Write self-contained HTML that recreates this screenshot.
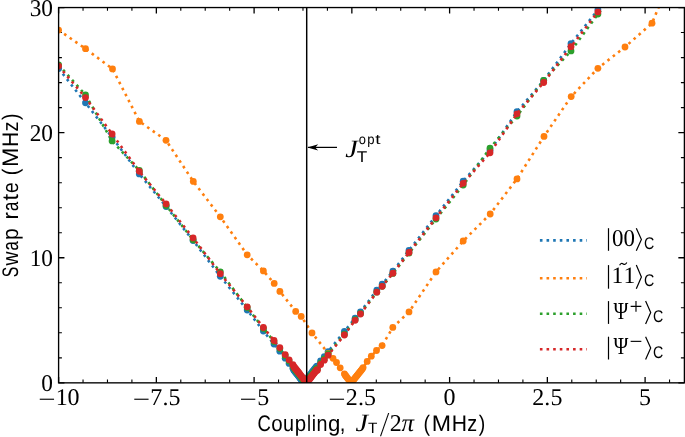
<!DOCTYPE html>
<html><head><meta charset="utf-8"><title>Swap rate vs coupling</title>
<style>
html,body{margin:0;padding:0;background:#fff;}
body{width:685px;height:437px;overflow:hidden;position:relative;font-family:"Liberation Sans",sans-serif;}
text{fill:#000;text-rendering:geometricPrecision;}
svg{will-change:transform;}
</style></head><body>
<svg width="685" height="437" viewBox="0 0 685 437" style="position:absolute;left:0;top:0">
<defs><clipPath id="ax"><rect x="58.60" y="7.55" width="625.60" height="375.30"/></clipPath></defs>
<rect x="0" y="0" width="685" height="437" fill="#fff"/>
<path d="M58.60 382.85v-5.85M58.60 7.55v5.85" stroke="#000" stroke-width="1.30"/><path d="M83.04 382.85v-3.30M83.04 7.55v3.30" stroke="#000" stroke-width="1.10"/><path d="M107.47 382.85v-3.30M107.47 7.55v3.30" stroke="#000" stroke-width="1.10"/><path d="M131.91 382.85v-3.30M131.91 7.55v3.30" stroke="#000" stroke-width="1.10"/><path d="M156.35 382.85v-5.85M156.35 7.55v5.85" stroke="#000" stroke-width="1.30"/><path d="M180.79 382.85v-3.30M180.79 7.55v3.30" stroke="#000" stroke-width="1.10"/><path d="M205.22 382.85v-3.30M205.22 7.55v3.30" stroke="#000" stroke-width="1.10"/><path d="M229.66 382.85v-3.30M229.66 7.55v3.30" stroke="#000" stroke-width="1.10"/><path d="M254.10 382.85v-5.85M254.10 7.55v5.85" stroke="#000" stroke-width="1.30"/><path d="M278.54 382.85v-3.30M278.54 7.55v3.30" stroke="#000" stroke-width="1.10"/><path d="M302.98 382.85v-3.30M302.98 7.55v3.30" stroke="#000" stroke-width="1.10"/><path d="M327.41 382.85v-3.30M327.41 7.55v3.30" stroke="#000" stroke-width="1.10"/><path d="M351.85 382.85v-5.85M351.85 7.55v5.85" stroke="#000" stroke-width="1.30"/><path d="M376.29 382.85v-3.30M376.29 7.55v3.30" stroke="#000" stroke-width="1.10"/><path d="M400.73 382.85v-3.30M400.73 7.55v3.30" stroke="#000" stroke-width="1.10"/><path d="M425.16 382.85v-3.30M425.16 7.55v3.30" stroke="#000" stroke-width="1.10"/><path d="M449.60 382.85v-5.85M449.60 7.55v5.85" stroke="#000" stroke-width="1.30"/><path d="M474.04 382.85v-3.30M474.04 7.55v3.30" stroke="#000" stroke-width="1.10"/><path d="M498.48 382.85v-3.30M498.48 7.55v3.30" stroke="#000" stroke-width="1.10"/><path d="M522.91 382.85v-3.30M522.91 7.55v3.30" stroke="#000" stroke-width="1.10"/><path d="M547.35 382.85v-5.85M547.35 7.55v5.85" stroke="#000" stroke-width="1.30"/><path d="M571.79 382.85v-3.30M571.79 7.55v3.30" stroke="#000" stroke-width="1.10"/><path d="M596.23 382.85v-3.30M596.23 7.55v3.30" stroke="#000" stroke-width="1.10"/><path d="M620.66 382.85v-3.30M620.66 7.55v3.30" stroke="#000" stroke-width="1.10"/><path d="M645.10 382.85v-5.85M645.10 7.55v5.85" stroke="#000" stroke-width="1.30"/><path d="M669.54 382.85v-3.30M669.54 7.55v3.30" stroke="#000" stroke-width="1.10"/><path d="M58.60 382.85h5.85M684.20 382.85h-5.85" stroke="#000" stroke-width="1.30"/><path d="M58.60 357.83h3.30M684.20 357.83h-3.30" stroke="#000" stroke-width="1.10"/><path d="M58.60 332.81h3.30M684.20 332.81h-3.30" stroke="#000" stroke-width="1.10"/><path d="M58.60 307.79h3.30M684.20 307.79h-3.30" stroke="#000" stroke-width="1.10"/><path d="M58.60 282.77h3.30M684.20 282.77h-3.30" stroke="#000" stroke-width="1.10"/><path d="M58.60 257.75h5.85M684.20 257.75h-5.85" stroke="#000" stroke-width="1.30"/><path d="M58.60 232.73h3.30M684.20 232.73h-3.30" stroke="#000" stroke-width="1.10"/><path d="M58.60 207.71h3.30M684.20 207.71h-3.30" stroke="#000" stroke-width="1.10"/><path d="M58.60 182.69h3.30M684.20 182.69h-3.30" stroke="#000" stroke-width="1.10"/><path d="M58.60 157.67h3.30M684.20 157.67h-3.30" stroke="#000" stroke-width="1.10"/><path d="M58.60 132.65h5.85M684.20 132.65h-5.85" stroke="#000" stroke-width="1.30"/><path d="M58.60 107.63h3.30M684.20 107.63h-3.30" stroke="#000" stroke-width="1.10"/><path d="M58.60 82.61h3.30M684.20 82.61h-3.30" stroke="#000" stroke-width="1.10"/><path d="M58.60 57.59h3.30M684.20 57.59h-3.30" stroke="#000" stroke-width="1.10"/><path d="M58.60 32.57h3.30M684.20 32.57h-3.30" stroke="#000" stroke-width="1.10"/><path d="M58.60 7.55h5.85M684.20 7.55h-5.85" stroke="#000" stroke-width="1.30"/>
<g clip-path="url(#ax)">
<path d="M58.6 68.5 L85.5 102.8 L112.1 137.2 L139.3 173.9 L166.1 206.5 L193.1 240.5 L220.3 276.3 L247.2 310.0 L263.4 331.1 L274.0 344.1 L279.8 351.2 L285.2 358.2 L289.1 363.4 L292.9 368.2 L293.7 370.0 L294.5 371.0 L295.3 372.1 L296.1 373.1 L296.9 374.1 L297.7 375.1 L298.5 376.1 L299.3 377.1 L300.1 378.2 L300.9 379.2 L301.7 380.2 L302.5 381.2 L303.3 382.2 L304.1 382.9 L304.9 382.9 L305.7 381.7 L306.5 382.7" fill="none" stroke="#1f77b4" stroke-width="2.60" stroke-dasharray="2.600 4.150" stroke-dashoffset="0.00"/>
<path d="M306.5 382.7 L307.3 382.0 L308.1 377.3 L308.9 376.3 L309.7 375.3 L310.5 374.3 L311.3 373.3 L312.1 372.2 L312.9 371.2 L313.7 370.2 L314.5 369.2 L315.3 368.2 L316.1 367.1 L316.9 366.1 L317.4 366.7 L320.6 360.9 L324.3 356.6 L328.1 351.6 L344.4 331.4 L355.1 318.2 L360.5 311.9 L376.8 290.1 L382.2 284.2 L392.9 271.1 L409.0 250.4 L436.0 215.7 L463.2 181.2 L490.0 150.7 L517.0 111.7 L543.7 80.4 L571.0 43.7 L597.9 9.8 L624.9 -24.1" fill="none" stroke="#1f77b4" stroke-width="2.60" stroke-dasharray="2.600 4.150" stroke-dashoffset="-1.80"/>
<g fill="#1f77b4"><circle cx="58.6" cy="68.5" r="3.40"/><circle cx="85.5" cy="102.8" r="3.40"/><circle cx="112.1" cy="137.2" r="3.40"/><circle cx="139.3" cy="173.9" r="3.40"/><circle cx="166.1" cy="206.5" r="3.40"/><circle cx="193.1" cy="240.5" r="3.40"/><circle cx="220.3" cy="276.3" r="3.40"/><circle cx="247.2" cy="310.0" r="3.40"/><circle cx="263.4" cy="331.1" r="3.40"/><circle cx="274.0" cy="344.1" r="3.40"/><circle cx="279.8" cy="351.2" r="3.40"/><circle cx="285.2" cy="358.2" r="3.40"/><circle cx="289.1" cy="363.4" r="3.40"/><circle cx="292.9" cy="368.2" r="3.40"/><circle cx="293.7" cy="370.0" r="3.40"/><circle cx="294.5" cy="371.0" r="3.40"/><circle cx="295.3" cy="372.1" r="3.40"/><circle cx="296.1" cy="373.1" r="3.40"/><circle cx="296.9" cy="374.1" r="3.40"/><circle cx="297.7" cy="375.1" r="3.40"/><circle cx="298.5" cy="376.1" r="3.40"/><circle cx="299.3" cy="377.1" r="3.40"/><circle cx="300.1" cy="378.2" r="3.40"/><circle cx="300.9" cy="379.2" r="3.40"/><circle cx="301.7" cy="380.2" r="3.40"/><circle cx="302.5" cy="381.2" r="3.40"/><circle cx="303.3" cy="382.2" r="3.40"/><circle cx="304.1" cy="382.9" r="3.40"/><circle cx="304.9" cy="382.9" r="3.40"/><circle cx="305.7" cy="381.7" r="3.40"/><circle cx="306.5" cy="382.7" r="3.40"/><circle cx="307.3" cy="382.0" r="3.40"/><circle cx="308.1" cy="377.3" r="3.40"/><circle cx="308.9" cy="376.3" r="3.40"/><circle cx="309.7" cy="375.3" r="3.40"/><circle cx="310.5" cy="374.3" r="3.40"/><circle cx="311.3" cy="373.3" r="3.40"/><circle cx="312.1" cy="372.2" r="3.40"/><circle cx="312.9" cy="371.2" r="3.40"/><circle cx="313.7" cy="370.2" r="3.40"/><circle cx="314.5" cy="369.2" r="3.40"/><circle cx="315.3" cy="368.2" r="3.40"/><circle cx="316.1" cy="367.1" r="3.40"/><circle cx="316.9" cy="366.1" r="3.40"/><circle cx="317.4" cy="366.7" r="3.40"/><circle cx="320.6" cy="360.9" r="3.40"/><circle cx="324.3" cy="356.6" r="3.40"/><circle cx="328.1" cy="351.6" r="3.40"/><circle cx="344.4" cy="331.4" r="3.40"/><circle cx="355.1" cy="318.2" r="3.40"/><circle cx="360.5" cy="311.9" r="3.40"/><circle cx="376.8" cy="290.1" r="3.40"/><circle cx="382.2" cy="284.2" r="3.40"/><circle cx="392.9" cy="271.1" r="3.40"/><circle cx="409.0" cy="250.4" r="3.40"/><circle cx="436.0" cy="215.7" r="3.40"/><circle cx="463.2" cy="181.2" r="3.40"/><circle cx="490.0" cy="150.7" r="3.40"/><circle cx="517.0" cy="111.7" r="3.40"/><circle cx="543.7" cy="80.4" r="3.40"/><circle cx="571.0" cy="43.7" r="3.40"/><circle cx="597.9" cy="9.8" r="3.40"/><circle cx="624.9" cy="-24.1" r="3.40"/></g>

<path d="M58.6 30.1 L85.5 48.7 L112.5 68.9 L139.4 121.4 L166.0 140.3 L193.3 181.4 L220.3 216.8 L247.2 254.8 L263.4 270.9 L274.2 283.4 L279.9 291.4 L295.7 311.4 L301.2 316.4 L312.0 332.9 L328.2 353.3 L333.0 358.3 L336.5 362.5 L340.2 367.8 L344.4 373.8 L345.2 375.2 L346.0 376.2 L346.8 377.3 L347.6 378.3 L348.4 379.3 L349.2 380.3 L350.0 381.3 L350.8 382.3 L351.2 382.9 L352.0 381.9 L352.8 380.9 L353.6 379.8 L354.4 378.8 L355.2 377.8 L356.0 376.8 L356.8 375.8 L357.6 374.8 L358.4 373.8 L359.2 372.8 L360.0 371.8 L360.8 370.8 L361.6 369.8 L362.4 368.8 L363.1 367.6 L367.2 361.4 L371.3 356.2 L376.5 350.5 L382.1 345.6 L392.8 327.4 L409.0 311.9 L436.0 271.9 L463.2 241.0 L490.2 214.0 L517.0 178.9 L544.0 136.4 L571.2 96.6 L597.9 68.3 L625.0 47.0 L652.0 23.2 L679.0 -42.0" fill="none" stroke="#ff7f0e" stroke-width="2.60" stroke-dasharray="2.600 4.150" stroke-dashoffset="0.00"/>
<g fill="#ff7f0e"><circle cx="58.6" cy="30.1" r="3.40"/><circle cx="85.5" cy="48.7" r="3.40"/><circle cx="112.5" cy="68.9" r="3.40"/><circle cx="139.4" cy="121.4" r="3.40"/><circle cx="166.0" cy="140.3" r="3.40"/><circle cx="193.3" cy="181.4" r="3.40"/><circle cx="220.3" cy="216.8" r="3.40"/><circle cx="247.2" cy="254.8" r="3.40"/><circle cx="263.4" cy="270.9" r="3.40"/><circle cx="274.2" cy="283.4" r="3.40"/><circle cx="279.9" cy="291.4" r="3.40"/><circle cx="295.7" cy="311.4" r="3.40"/><circle cx="301.2" cy="316.4" r="3.40"/><circle cx="312.0" cy="332.9" r="3.40"/><circle cx="328.2" cy="353.3" r="3.40"/><circle cx="333.0" cy="358.3" r="3.40"/><circle cx="336.5" cy="362.5" r="3.40"/><circle cx="340.2" cy="367.8" r="3.40"/><circle cx="344.4" cy="373.8" r="3.40"/><circle cx="345.2" cy="375.2" r="3.40"/><circle cx="346.0" cy="376.2" r="3.40"/><circle cx="346.8" cy="377.3" r="3.40"/><circle cx="347.6" cy="378.3" r="3.40"/><circle cx="348.4" cy="379.3" r="3.40"/><circle cx="349.2" cy="380.3" r="3.40"/><circle cx="350.0" cy="381.3" r="3.40"/><circle cx="350.8" cy="382.3" r="3.40"/><circle cx="351.2" cy="382.9" r="3.40"/><circle cx="352.0" cy="381.9" r="3.40"/><circle cx="352.8" cy="380.9" r="3.40"/><circle cx="353.6" cy="379.8" r="3.40"/><circle cx="354.4" cy="378.8" r="3.40"/><circle cx="355.2" cy="377.8" r="3.40"/><circle cx="356.0" cy="376.8" r="3.40"/><circle cx="356.8" cy="375.8" r="3.40"/><circle cx="357.6" cy="374.8" r="3.40"/><circle cx="358.4" cy="373.8" r="3.40"/><circle cx="359.2" cy="372.8" r="3.40"/><circle cx="360.0" cy="371.8" r="3.40"/><circle cx="360.8" cy="370.8" r="3.40"/><circle cx="361.6" cy="369.8" r="3.40"/><circle cx="362.4" cy="368.8" r="3.40"/><circle cx="363.1" cy="367.6" r="3.40"/><circle cx="367.2" cy="361.4" r="3.40"/><circle cx="371.3" cy="356.2" r="3.40"/><circle cx="376.5" cy="350.5" r="3.40"/><circle cx="382.1" cy="345.6" r="3.40"/><circle cx="392.8" cy="327.4" r="3.40"/><circle cx="409.0" cy="311.9" r="3.40"/><circle cx="436.0" cy="271.9" r="3.40"/><circle cx="463.2" cy="241.0" r="3.40"/><circle cx="490.2" cy="214.0" r="3.40"/><circle cx="517.0" cy="178.9" r="3.40"/><circle cx="544.0" cy="136.4" r="3.40"/><circle cx="571.2" cy="96.6" r="3.40"/><circle cx="597.9" cy="68.3" r="3.40"/><circle cx="625.0" cy="47.0" r="3.40"/><circle cx="652.0" cy="23.2" r="3.40"/><circle cx="679.0" cy="-42.0" r="3.40"/></g>

<path d="M58.6 64.8 L85.5 95.0 L112.1 140.9 L139.3 170.5 L166.1 205.5 L193.1 239.8 L220.3 271.8 L247.2 307.5 L263.4 328.4 L274.0 341.5 L279.8 348.6 L285.2 355.7 L289.1 360.9 L292.9 365.8 L293.7 367.6 L294.5 368.6 L295.3 369.7 L296.1 370.7 L296.9 371.7 L297.7 372.7 L298.5 373.8 L299.3 374.8 L300.1 375.8 L300.9 376.8 L301.7 377.9 L302.5 378.9 L303.3 379.9 L304.1 381.0 L304.9 382.0 L305.7 381.7 L306.5 382.7" fill="none" stroke="#2ca02c" stroke-width="2.60" stroke-dasharray="2.600 4.150" stroke-dashoffset="0.00"/>
<path d="M306.5 382.7 L307.3 382.0 L308.1 379.3 L308.9 378.3 L309.7 377.3 L310.5 376.3 L311.3 375.3 L312.1 374.3 L312.9 373.3 L313.7 372.3 L314.5 371.3 L315.3 370.3 L316.1 369.3 L316.9 368.3 L317.4 368.9 L320.6 363.1 L324.3 358.9 L328.1 354.0 L344.4 334.2 L355.1 319.7 L360.5 313.5 L376.8 292.1 L382.2 286.3 L392.9 273.4 L409.0 253.1 L436.0 219.0 L463.2 185.1 L490.0 148.2 L517.0 116.0 L543.7 80.5 L571.0 50.9 L597.9 14.1 L624.9 -19.8" fill="none" stroke="#2ca02c" stroke-width="2.60" stroke-dasharray="2.600 4.150" stroke-dashoffset="-0.80"/>
<g fill="#2ca02c"><circle cx="58.6" cy="64.8" r="3.40"/><circle cx="85.5" cy="95.0" r="3.40"/><circle cx="112.1" cy="140.9" r="3.40"/><circle cx="139.3" cy="170.5" r="3.40"/><circle cx="166.1" cy="205.5" r="3.40"/><circle cx="193.1" cy="239.8" r="3.40"/><circle cx="220.3" cy="271.8" r="3.40"/><circle cx="247.2" cy="307.5" r="3.40"/><circle cx="263.4" cy="328.4" r="3.40"/><circle cx="274.0" cy="341.5" r="3.40"/><circle cx="279.8" cy="348.6" r="3.40"/><circle cx="285.2" cy="355.7" r="3.40"/><circle cx="289.1" cy="360.9" r="3.40"/><circle cx="292.9" cy="365.8" r="3.40"/><circle cx="293.7" cy="367.6" r="3.40"/><circle cx="294.5" cy="368.6" r="3.40"/><circle cx="295.3" cy="369.7" r="3.40"/><circle cx="296.1" cy="370.7" r="3.40"/><circle cx="296.9" cy="371.7" r="3.40"/><circle cx="297.7" cy="372.7" r="3.40"/><circle cx="298.5" cy="373.8" r="3.40"/><circle cx="299.3" cy="374.8" r="3.40"/><circle cx="300.1" cy="375.8" r="3.40"/><circle cx="300.9" cy="376.8" r="3.40"/><circle cx="301.7" cy="377.9" r="3.40"/><circle cx="302.5" cy="378.9" r="3.40"/><circle cx="303.3" cy="379.9" r="3.40"/><circle cx="304.1" cy="381.0" r="3.40"/><circle cx="304.9" cy="382.0" r="3.40"/><circle cx="305.7" cy="381.7" r="3.40"/><circle cx="306.5" cy="382.7" r="3.40"/><circle cx="307.3" cy="382.0" r="3.40"/><circle cx="308.1" cy="379.3" r="3.40"/><circle cx="308.9" cy="378.3" r="3.40"/><circle cx="309.7" cy="377.3" r="3.40"/><circle cx="310.5" cy="376.3" r="3.40"/><circle cx="311.3" cy="375.3" r="3.40"/><circle cx="312.1" cy="374.3" r="3.40"/><circle cx="312.9" cy="373.3" r="3.40"/><circle cx="313.7" cy="372.3" r="3.40"/><circle cx="314.5" cy="371.3" r="3.40"/><circle cx="315.3" cy="370.3" r="3.40"/><circle cx="316.1" cy="369.3" r="3.40"/><circle cx="316.9" cy="368.3" r="3.40"/><circle cx="317.4" cy="368.9" r="3.40"/><circle cx="320.6" cy="363.1" r="3.40"/><circle cx="324.3" cy="358.9" r="3.40"/><circle cx="328.1" cy="354.0" r="3.40"/><circle cx="344.4" cy="334.2" r="3.40"/><circle cx="355.1" cy="319.7" r="3.40"/><circle cx="360.5" cy="313.5" r="3.40"/><circle cx="376.8" cy="292.1" r="3.40"/><circle cx="382.2" cy="286.3" r="3.40"/><circle cx="392.9" cy="273.4" r="3.40"/><circle cx="409.0" cy="253.1" r="3.40"/><circle cx="436.0" cy="219.0" r="3.40"/><circle cx="463.2" cy="185.1" r="3.40"/><circle cx="490.0" cy="148.2" r="3.40"/><circle cx="517.0" cy="116.0" r="3.40"/><circle cx="543.7" cy="80.5" r="3.40"/><circle cx="571.0" cy="50.9" r="3.40"/><circle cx="597.9" cy="14.1" r="3.40"/><circle cx="624.9" cy="-19.8" r="3.40"/></g>

<path d="M58.6 66.1 L85.5 97.6 L112.1 134.0 L139.3 171.3 L166.1 203.9 L193.1 237.9 L220.3 273.7 L247.2 306.8 L263.4 327.5 L274.0 340.5 L279.8 347.6 L285.2 354.6 L289.1 359.8 L292.9 364.6 L293.7 366.4 L294.5 367.4 L295.3 368.5 L296.1 369.5 L296.9 370.5 L297.7 371.5 L298.5 372.5 L299.3 373.5 L300.1 374.6 L300.9 375.6 L301.7 376.6 L302.5 377.6 L303.3 378.6 L304.1 379.7 L304.9 380.7 L305.7 381.7 L306.5 382.7" fill="none" stroke="#d62728" stroke-width="2.60" stroke-dasharray="2.600 4.150" stroke-dashoffset="0.00"/>
<path d="M306.5 382.7 L307.3 382.0 L308.1 380.9 L308.9 379.9 L309.7 378.9 L310.5 377.9 L311.3 376.9 L312.1 375.8 L312.9 374.8 L313.7 373.8 L314.5 372.8 L315.3 371.8 L316.1 370.7 L316.9 369.7 L317.4 370.3 L320.6 364.5 L324.3 360.2 L328.1 355.2 L344.4 335.0 L355.1 320.3 L360.5 314.0 L376.8 292.2 L382.2 286.3 L392.9 273.2 L409.0 252.5 L436.0 217.8 L463.2 183.3 L490.0 152.8 L517.0 113.8 L543.7 82.5 L571.0 46.7 L597.9 11.9 L624.9 -22.0" fill="none" stroke="#d62728" stroke-width="2.60" stroke-dasharray="2.600 4.150" stroke-dashoffset="0.00"/>
<g fill="#d62728"><circle cx="58.6" cy="66.1" r="3.40"/><circle cx="85.5" cy="97.6" r="3.40"/><circle cx="112.1" cy="134.0" r="3.40"/><circle cx="139.3" cy="171.3" r="3.40"/><circle cx="166.1" cy="203.9" r="3.40"/><circle cx="193.1" cy="237.9" r="3.40"/><circle cx="220.3" cy="273.7" r="3.40"/><circle cx="247.2" cy="306.8" r="3.40"/><circle cx="263.4" cy="327.5" r="3.40"/><circle cx="274.0" cy="340.5" r="3.40"/><circle cx="279.8" cy="347.6" r="3.40"/><circle cx="285.2" cy="354.6" r="3.40"/><circle cx="289.1" cy="359.8" r="3.40"/><circle cx="292.9" cy="364.6" r="3.40"/><circle cx="293.7" cy="366.4" r="3.40"/><circle cx="294.5" cy="367.4" r="3.40"/><circle cx="295.3" cy="368.5" r="3.40"/><circle cx="296.1" cy="369.5" r="3.40"/><circle cx="296.9" cy="370.5" r="3.40"/><circle cx="297.7" cy="371.5" r="3.40"/><circle cx="298.5" cy="372.5" r="3.40"/><circle cx="299.3" cy="373.5" r="3.40"/><circle cx="300.1" cy="374.6" r="3.40"/><circle cx="300.9" cy="375.6" r="3.40"/><circle cx="301.7" cy="376.6" r="3.40"/><circle cx="302.5" cy="377.6" r="3.40"/><circle cx="303.3" cy="378.6" r="3.40"/><circle cx="304.1" cy="379.7" r="3.40"/><circle cx="304.9" cy="380.7" r="3.40"/><circle cx="305.7" cy="381.7" r="3.40"/><circle cx="306.5" cy="382.7" r="3.40"/><circle cx="307.3" cy="382.0" r="3.40"/><circle cx="308.1" cy="380.9" r="3.40"/><circle cx="308.9" cy="379.9" r="3.40"/><circle cx="309.7" cy="378.9" r="3.40"/><circle cx="310.5" cy="377.9" r="3.40"/><circle cx="311.3" cy="376.9" r="3.40"/><circle cx="312.1" cy="375.8" r="3.40"/><circle cx="312.9" cy="374.8" r="3.40"/><circle cx="313.7" cy="373.8" r="3.40"/><circle cx="314.5" cy="372.8" r="3.40"/><circle cx="315.3" cy="371.8" r="3.40"/><circle cx="316.1" cy="370.7" r="3.40"/><circle cx="316.9" cy="369.7" r="3.40"/><circle cx="317.4" cy="370.3" r="3.40"/><circle cx="320.6" cy="364.5" r="3.40"/><circle cx="324.3" cy="360.2" r="3.40"/><circle cx="328.1" cy="355.2" r="3.40"/><circle cx="344.4" cy="335.0" r="3.40"/><circle cx="355.1" cy="320.3" r="3.40"/><circle cx="360.5" cy="314.0" r="3.40"/><circle cx="376.8" cy="292.2" r="3.40"/><circle cx="382.2" cy="286.3" r="3.40"/><circle cx="392.9" cy="273.2" r="3.40"/><circle cx="409.0" cy="252.5" r="3.40"/><circle cx="436.0" cy="217.8" r="3.40"/><circle cx="463.2" cy="183.3" r="3.40"/><circle cx="490.0" cy="152.8" r="3.40"/><circle cx="517.0" cy="113.8" r="3.40"/><circle cx="543.7" cy="82.5" r="3.40"/><circle cx="571.0" cy="46.7" r="3.40"/><circle cx="597.9" cy="11.9" r="3.40"/><circle cx="624.9" cy="-22.0" r="3.40"/></g>

<line x1="306.7" x2="306.7" y1="7.5" y2="382.9" stroke="#000" stroke-width="1.45"/>
</g>
<rect x="58.60" y="7.55" width="625.80" height="375.30" fill="none" stroke="#000" stroke-width="1.35"/>
<line x1="539.9" x2="586.9" y1="240.4" y2="240.4" stroke="#1f77b4" stroke-width="2.60" stroke-dasharray="2.60 4.03"/>
<line x1="539.9" x2="586.9" y1="278.2" y2="278.2" stroke="#ff7f0e" stroke-width="2.60" stroke-dasharray="2.60 4.03"/>
<line x1="539.9" x2="586.9" y1="313.8" y2="313.8" stroke="#2ca02c" stroke-width="2.60" stroke-dasharray="2.60 4.03"/>
<line x1="539.9" x2="586.9" y1="349.3" y2="349.3" stroke="#d62728" stroke-width="2.60" stroke-dasharray="2.60 4.03"/>
<path d="M308 147.4H337" stroke="#000" stroke-width="1.25" fill="none"/>
<path d="M307.4 147.4L318.2 144.2L315.2 147.4L318.2 150.6Z" fill="#000"/>
<text x="41.34" y="391.15" font-size="24.00" style="font-family:'Liberation Serif',serif" text-anchor="start" textLength="11.66" lengthAdjust="spacingAndGlyphs" >0</text>
<text x="29.67" y="266.05" font-size="24.00" style="font-family:'Liberation Serif',serif" text-anchor="start" textLength="23.33" lengthAdjust="spacingAndGlyphs" >10</text>
<text x="29.67" y="140.95" font-size="24.00" style="font-family:'Liberation Serif',serif" text-anchor="start" textLength="23.33" lengthAdjust="spacingAndGlyphs" >20</text>
<text x="29.67" y="15.85" font-size="24.00" style="font-family:'Liberation Serif',serif" text-anchor="start" textLength="23.33" lengthAdjust="spacingAndGlyphs" >30</text>
<text x="38.26" y="407.30" font-size="23.33" style="font-family:'Liberation Serif',serif" text-anchor="start" textLength="17.30" lengthAdjust="spacingAndGlyphs" >−</text><text x="55.84 67.51" y="405.30" font-size="24.00" style="font-family:'Liberation Serif',serif" text-anchor="start" >10</text>
<text x="132.77" y="407.30" font-size="23.33" style="font-family:'Liberation Serif',serif" text-anchor="start" textLength="17.30" lengthAdjust="spacingAndGlyphs" >−</text><text x="150.35 162.43 168.50" y="405.30" font-size="24.00" style="font-family:'Liberation Serif',serif" text-anchor="start" >7.5</text>
<text x="239.60" y="407.30" font-size="23.33" style="font-family:'Liberation Serif',serif" text-anchor="start" textLength="17.30" lengthAdjust="spacingAndGlyphs" >−</text><text x="257.18" y="405.30" font-size="24.00" style="font-family:'Liberation Serif',serif" text-anchor="start" >5</text>
<text x="328.27" y="407.30" font-size="23.33" style="font-family:'Liberation Serif',serif" text-anchor="start" textLength="17.30" lengthAdjust="spacingAndGlyphs" >−</text><text x="345.85 357.93 364.00" y="405.30" font-size="24.00" style="font-family:'Liberation Serif',serif" text-anchor="start" >2.5</text>
<text x="443.60" y="405.30" font-size="24.00" style="font-family:'Liberation Serif',serif" text-anchor="start" >0</text>
<text x="532.27 544.35 550.43" y="405.30" font-size="24.00" style="font-family:'Liberation Serif',serif" text-anchor="start" >2.5</text>
<text x="639.10" y="405.30" font-size="24.00" style="font-family:'Liberation Serif',serif" text-anchor="start" >5</text>
<text y="430.70" font-size="22.50" style="font-family:'Liberation Sans',sans-serif" ><tspan x="257.41" textLength="13.34" lengthAdjust="spacingAndGlyphs">C</tspan><tspan x="271.29" textLength="11.43" lengthAdjust="spacingAndGlyphs">o</tspan><tspan x="283.07" textLength="11.00" lengthAdjust="spacingAndGlyphs">u</tspan><tspan x="294.83" textLength="11.38" lengthAdjust="spacingAndGlyphs">p</tspan><tspan x="307.12" textLength="4.04" lengthAdjust="spacingAndGlyphs">l</tspan><tspan x="311.66" textLength="4.30" lengthAdjust="spacingAndGlyphs">i</tspan><tspan x="316.44" textLength="11.00" lengthAdjust="spacingAndGlyphs">n</tspan><tspan x="328.12" textLength="12.37" lengthAdjust="spacingAndGlyphs">g</tspan><tspan x="339.82" textLength="5.66" lengthAdjust="spacingAndGlyphs">,</tspan></text>
<text x="355.40" y="431.20" font-size="25.00" style="font-family:'Liberation Serif',serif;font-style:italic" text-anchor="start" textLength="12.60" lengthAdjust="spacingAndGlyphs" >J</text>
<text y="433.30" font-size="15.00" style="font-family:'Liberation Sans',sans-serif" ><tspan x="368.10" textLength="9.40" lengthAdjust="spacingAndGlyphs">T</tspan></text>
<g transform="translate(379.9 436.2) skewX(-6.85) scale(1 1.495)"><text x="0.00" y="0.00" font-size="23.33" style="font-family:'Liberation Serif',serif" text-anchor="start" >/</text></g>
<text x="389.84" y="430.70" font-size="24.00" style="font-family:'Liberation Serif',serif" text-anchor="start" >2</text>
<text x="401.50" y="430.70" font-size="25.00" style="font-family:'Liberation Serif',serif;font-style:italic" text-anchor="start" >π</text>
<text y="430.70" font-size="22.50" style="font-family:'Liberation Sans',sans-serif" ><tspan x="423.53" textLength="6.53" lengthAdjust="spacingAndGlyphs">(</tspan><tspan x="431.65" textLength="19.30" lengthAdjust="spacingAndGlyphs">M</tspan><tspan x="451.72" textLength="15.26" lengthAdjust="spacingAndGlyphs">H</tspan><tspan x="467.25" textLength="9.89" lengthAdjust="spacingAndGlyphs">z</tspan><tspan x="478.74" textLength="6.53" lengthAdjust="spacingAndGlyphs">)</tspan></text>
<g transform="translate(17.7 276.9) rotate(-90)"><text y="0.00" font-size="22.50" style="font-family:'Liberation Sans',sans-serif" ><tspan x="-0.47" textLength="10.54" lengthAdjust="spacingAndGlyphs">S</tspan><tspan x="11.38" textLength="13.92" lengthAdjust="spacingAndGlyphs">w</tspan><tspan x="26.45" textLength="9.20" lengthAdjust="spacingAndGlyphs">a</tspan><tspan x="36.99" textLength="11.75" lengthAdjust="spacingAndGlyphs">p</tspan> <tspan x="57.36" textLength="7.46" lengthAdjust="spacingAndGlyphs">r</tspan><tspan x="65.85" textLength="9.20" lengthAdjust="spacingAndGlyphs">a</tspan><tspan x="76.39" textLength="6.53" lengthAdjust="spacingAndGlyphs">t</tspan><tspan x="83.94" textLength="10.55" lengthAdjust="spacingAndGlyphs">e</tspan> <tspan x="101.73" textLength="6.53" lengthAdjust="spacingAndGlyphs">(</tspan><tspan x="109.85" textLength="19.30" lengthAdjust="spacingAndGlyphs">M</tspan><tspan x="129.92" textLength="15.26" lengthAdjust="spacingAndGlyphs">H</tspan><tspan x="145.45" textLength="9.89" lengthAdjust="spacingAndGlyphs">z</tspan><tspan x="156.94" textLength="6.53" lengthAdjust="spacingAndGlyphs">)</tspan></text></g>
<text x="345.20" y="156.50" font-size="25.00" style="font-family:'Liberation Serif',serif;font-style:italic" text-anchor="start" textLength="12.60" lengthAdjust="spacingAndGlyphs" >J</text>
<text y="144.30" font-size="14.00" style="font-family:'Liberation Sans',sans-serif" ><tspan x="358.71" textLength="7.19" lengthAdjust="spacingAndGlyphs">o</tspan><tspan x="367.20" textLength="7.30" lengthAdjust="spacingAndGlyphs">p</tspan><tspan x="375.27" textLength="5.22" lengthAdjust="spacingAndGlyphs">t</tspan></text>
<text y="162.30" font-size="15.50" style="font-family:'Liberation Sans',sans-serif" ><tspan x="356.86" textLength="10.48" lengthAdjust="spacingAndGlyphs">T</tspan></text>
<path d="M608.5 228.2V250.8" stroke="#000" stroke-width="1.20" fill="none"/>
<text x="612.10" y="246.00" font-size="24.20" style="font-family:'Liberation Serif',serif" text-anchor="start" textLength="22.90" lengthAdjust="spacingAndGlyphs" >00</text>
<path d="M636.3 228.2L641.4 239.5L636.3 250.8" stroke="#000" stroke-width="1.20" fill="none" stroke-linejoin="miter"/>
<text x="644.00" y="248.70" font-size="17.00" style="font-family:'Liberation Sans',sans-serif" text-anchor="start" textLength="10.30" lengthAdjust="spacingAndGlyphs" >C</text>
<path d="M608.5 265.1V288.7" stroke="#000" stroke-width="1.20" fill="none"/>
<text x="611.60 623.60" y="283.00" font-size="23.60" style="font-family:'Liberation Serif',serif" text-anchor="start" >11</text>
<path d="M619.6 265.3c1.0-1.9 2.2-2.3 3.6-1.4s2.6 0.6 3.6-1.4" stroke="#000" stroke-width="1.15" fill="none"/>
<path d="M636.3 265.1L641.4 276.9L636.3 288.7" stroke="#000" stroke-width="1.20" fill="none" stroke-linejoin="miter"/>
<text x="644.00" y="286.20" font-size="17.00" style="font-family:'Liberation Sans',sans-serif" text-anchor="start" textLength="10.30" lengthAdjust="spacingAndGlyphs" >C</text>
<path d="M608.5 301.1V323.9" stroke="#000" stroke-width="1.20" fill="none"/>
<text x="613.40" y="318.60" font-size="24.40" style="font-family:'Liberation Serif',serif" text-anchor="start" textLength="14.80" lengthAdjust="spacingAndGlyphs" >Ψ</text>
<text x="629.60" y="313.70" font-size="23.00" style="font-family:'Liberation Serif',serif" text-anchor="start" >+</text>
<path d="M645.6 301.1L650.7 312.5L645.6 323.9" stroke="#000" stroke-width="1.20" fill="none" stroke-linejoin="miter"/>
<text x="653.00" y="322.40" font-size="17.00" style="font-family:'Liberation Sans',sans-serif" text-anchor="start" textLength="10.30" lengthAdjust="spacingAndGlyphs" >C</text>
<path d="M608.5 336.7V359.5" stroke="#000" stroke-width="1.20" fill="none"/>
<text x="613.40" y="353.60" font-size="24.40" style="font-family:'Liberation Serif',serif" text-anchor="start" textLength="14.80" lengthAdjust="spacingAndGlyphs" >Ψ</text>
<text x="629.60" y="348.90" font-size="23.00" style="font-family:'Liberation Serif',serif" text-anchor="start" >−</text>
<path d="M645.6 336.7L650.7 348.1L645.6 359.5" stroke="#000" stroke-width="1.20" fill="none" stroke-linejoin="miter"/>
<text x="653.00" y="357.70" font-size="17.00" style="font-family:'Liberation Sans',sans-serif" text-anchor="start" textLength="10.30" lengthAdjust="spacingAndGlyphs" >C</text>
</svg>
</body></html>
